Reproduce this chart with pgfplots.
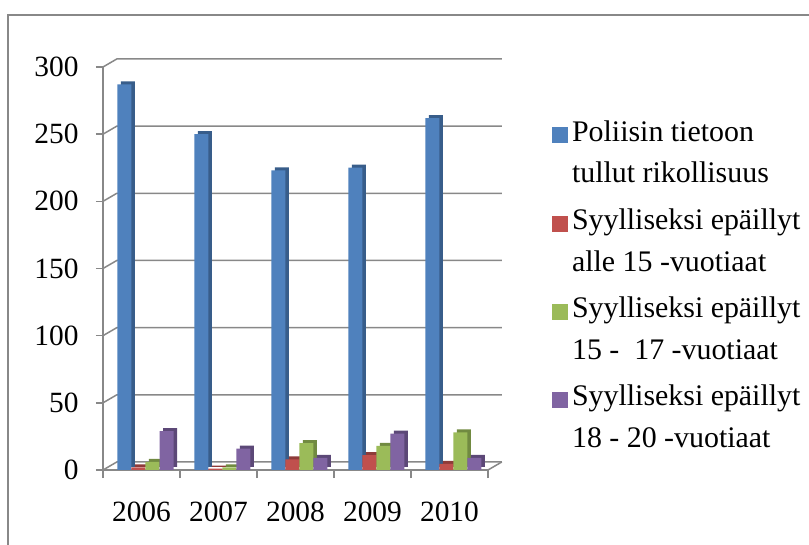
\documentclass[border=0pt]{standalone}
\usepackage{fontspec}
\setmainfont{Liberation Serif}
\usepackage{pgfplots}
\pgfplotsset{compat=1.18}
\usepackage{pgfplotstable}

\definecolor{bF}{HTML}{4F81BD}
\definecolor{bS}{HTML}{385D8A}
\definecolor{rF}{HTML}{C0504D}
\definecolor{rS}{HTML}{8E3B39}
\definecolor{gF}{HTML}{9BBB59}
\definecolor{gS}{HTML}{718A41}
\definecolor{pF}{HTML}{8064A2}
\definecolor{pS}{HTML}{5C4877}
\definecolor{gridc}{HTML}{888888}

\pgfplotstableread{
x poliisi alle15 v1517 v1820
0 287 2 6 29
1 250 1 2 16
2 223 8 20 9
3 225 11 18 27
4 262 4.5 28 9
}\datatable

\begin{document}
\begin{tikzpicture}
\path[use as bounding box] (0,0) rectangle (809bp,545bp);
\draw[gridc, line width=2bp] (8bp,0) -- (8bp,530bp) -- (809bp,530bp);
\begin{axis}[
  at={(103bp,75bp)}, anchor=south west,
  scale only axis, width=385bp, height=403bp,
  xmin=-0.5, xmax=4.5, ymin=0, ymax=300,
  clip=false,
  axis lines*=left,
  axis line style={gridc, line width=1.5bp, -},
  ybar, bar width=14bp,
  xtick={0,...,4}, xticklabels={2006,2007,2008,2009,2010},
  minor xtick={-0.5,0.5,...,4.5},
  ytick={0,50,...,300},
  tick align=outside,
  major tick length=7bp, minor tick length=8bp,
  major x tick style={draw=none},
  minor x tick style={gridc, line width=1.5bp},
  y tick style={gridc, line width=1.5bp},
  /pgf/number format/assume math mode=true,
  tick label style={font=\fontsize{29.5}{34}\selectfont, black},
  xticklabel style={yshift=-21bp},
  yticklabel style={xshift=-14bp},
  legend style={draw=none, fill=none, at={(axis description cs:1.166,0.868)}, anchor=north west,
    font=\fontsize{30}{42}\selectfont, nodes={align=left, inner xsep=4bp, inner ysep=0pt},
    row sep=24bp, column sep=0pt, inner sep=0pt},
  legend cell align=left,
  legend image code/.code={\fill[#1] (0bp,9bp) rectangle (16bp,25bp);},
]
\pgfplotsinvokeforeach{0,50,...,300}{
  \draw[gridc, line width=1.5bp] (axis cs:-0.5,#1) -- (axis cs:-0.32,{#1+6}) -- (axis cs:4.68,{#1+6});
}
\draw[gridc, line width=1.5bp] (axis cs:4.5,0) -- (axis cs:4.68,6);

\addplot[fill=bS, draw=none, bar shift=-17bp, xshift=3.5bp, yshift=3bp, forget plot] table[x=x,y=poliisi]{\datatable};
\addplot[fill=bF, draw=none, bar shift=-17bp] table[x=x,y=poliisi]{\datatable};
\addlegendentry{Poliisin tietoon\\tullut rikollisuus}
\addplot[fill=rS, draw=none, bar shift=-3bp, xshift=3.5bp, yshift=3bp, forget plot] table[x=x,y=alle15]{\datatable};
\addplot[fill=rF, draw=none, bar shift=-3bp] table[x=x,y=alle15]{\datatable};
\addlegendentry{Syylliseksi epäillyt\\alle 15 -vuotiaat}
\addplot[fill=gS, draw=none, bar shift=11bp, xshift=3.5bp, yshift=3bp, forget plot] table[x=x,y=v1517]{\datatable};
\addplot[fill=gF, draw=none, bar shift=11bp] table[x=x,y=v1517]{\datatable};
\addlegendentry{Syylliseksi epäillyt\\15 - ~17 -vuotiaat}
\addplot[fill=pS, draw=none, bar shift=25bp, xshift=3.5bp, yshift=3bp, forget plot] table[x=x,y=v1820]{\datatable};
\addplot[fill=pF, draw=none, bar shift=25bp] table[x=x,y=v1820]{\datatable};
\addlegendentry{Syylliseksi epäillyt\\18 - 20 -vuotiaat}
\end{axis}
\end{tikzpicture}
\end{document}
